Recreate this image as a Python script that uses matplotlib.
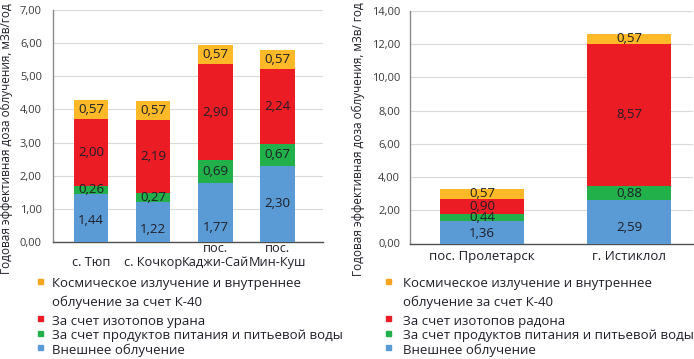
import matplotlib
matplotlib.use("Agg")
import matplotlib.pyplot as plt
import numpy as np
from matplotlib.transforms import blended_transform_factory
from matplotlib.lines import Line2D

plt.rcParams['font.family'] = ['Open Sans', 'DejaVu Sans']

# ---------------- data ----------------
left_categories = ["с. Тюп", "с. Кочкор", "пос.\nКаджи-Сай", "пос.\nМин-Куш"]
left_external = [1.44, 1.22, 1.77, 2.30]
left_food = [0.26, 0.27, 0.69, 0.67]
left_uranium = [2.00, 2.19, 2.90, 2.24]
left_cosmic = [0.57, 0.57, 0.57, 0.57]
left_yticks = [0, 1, 2, 3, 4, 5, 6, 7]

right_categories = ["пос. Пролетарск", "г. Истиклол"]
right_external = [1.36, 2.59]
right_food = [0.44, 0.88]
right_radon = [0.90, 8.57]
right_cosmic = [0.57, 0.57]
right_yticks = [0, 2, 4, 6, 8, 10, 12, 14]

ylabel_left = "Годовая эффективная доза облучения, мЗв/год"
ylabel_right = "Годовая эффективная доза облучения, мЗв/ год"

legend_left = ["Космическое излучение и внутреннее\nоблучение за счет К-40",
               "За счет изотопов урана",
               "За счет продуктов питания и питьевой воды",
               "Внешнее облучение"]
legend_right = ["Космическое излучение и внутреннее\nоблучение за счет К-40",
                "За счет изотопов радона",
                "За счет продуктов питания и питьевой воды",
                "Внешнее облучение"]

# ---------------- style ----------------
C_BLUE = "#5b9bd5"
C_GREEN = "#22b04b"
C_RED = "#ec1c24"
C_YELLOW = "#fdb927"
C_LEG_YELLOW = "#f7a51e"
TXT = "#1e1e28"

# label placement within blue segment (fraction of segment height)
left_blue_frac = [0.46, 0.30, 0.24, 0.51]
right_blue_frac = [0.46, 0.38]

W, H = 694, 359
fig = plt.figure(figsize=(W / 100, H / 100), dpi=100)


def fx(px):
    return px / W


def fy(py):
    return 1 - py / H


def fmt(v):
    return f"{v:.2f}".replace(".", ",")


def draw(ax, cats, series, colors, blue_frac, yticks, xlim, width, ypad):
    x = np.arange(len(cats))
    bottom = np.zeros(len(cats))
    for k, (vals, col) in enumerate(zip(series, colors)):
        vals = np.array(vals)
        ax.bar(x, vals, width, bottom=bottom, color=col, zorder=3)
        for i, v in enumerate(vals):
            frac = blue_frac[i] if k == 0 else 0.5
            ax.text(x[i], bottom[i] + v * frac, fmt(v), ha="center", va="center",
                    fontsize=9.5, color=TXT, zorder=4)
        bottom = bottom + vals
    ax.set_xlim(*xlim)
    ax.set_ylim(yticks[0], yticks[-1])
    ax.set_yticks(yticks)
    ax.set_yticklabels([fmt(t) for t in yticks], fontsize=8, color="#3a3a3a")
    ax.tick_params(axis="y", length=0, pad=ypad)
    ax.set_xticks([])
    ax.grid(axis="y", color="#d9d9d9", linewidth=0.8, zorder=0)
    ax.set_axisbelow(True)
    for s in ("top", "right"):
        ax.spines[s].set_visible(False)
    ax.spines["left"].set_color("#8c8c8c")
    ax.spines["left"].set_linewidth(1.0)
    ax.spines["bottom"].set_color("#505050")
    ax.spines["bottom"].set_linewidth(1.0)
    return x


# left axes
axL = fig.add_axes([fx(53), fy(242), fx(323) - fx(53), fy(10) - fy(242)])
xL = draw(axL, left_categories,
          [left_external, left_food, left_uranium, left_cosmic],
          [C_BLUE, C_GREEN, C_RED, C_YELLOW], left_blue_frac, left_yticks,
          (-0.61, 3.73), 0.555, 8)
trL = blended_transform_factory(axL.transData, fig.transFigure)
for xi, lab in zip(xL, left_categories):
    fig.text(xi, fy(269), lab, transform=trL, ha="center", va="bottom",
             fontsize=9.2, color=TXT, linespacing=1.1)

# right axes
axR = fig.add_axes([fx(410), fy(243.5), fx(693) - fx(410), fy(11) - fy(243.5)])
xR = draw(axR, right_categories,
          [right_external, right_food, right_radon, right_cosmic],
          [C_BLUE, C_GREEN, C_RED, C_YELLOW], right_blue_frac, right_yticks,
          (-0.49, 1.435), 0.571, 7)
trR = blended_transform_factory(axR.transData, fig.transFigure)
for xi, lab in zip(xR, right_categories):
    fig.text(xi, fy(263), lab, transform=trR, ha="center", va="bottom",
             fontsize=9.5, color=TXT)

# y labels
fig.text(fx(6), fy(139), ylabel_left, rotation=90, ha="center", va="center",
         fontsize=8.5, color=TXT)
fig.text(fx(358), fy(139), ylabel_right, rotation=90, ha="center", va="center",
         fontsize=8.5, color=TXT)

# legends
leg_colors = [C_LEG_YELLOW, C_RED, C_GREEN, C_BLUE]
text_tops = [277.5, 314.5, 329, 343.5]
marker_y = [281, 317.5, 332.5, 347]


def legend(labels, mx, tx):
    for lab, col, ty, my in zip(labels, leg_colors, text_tops, marker_y):
        fig.add_artist(Line2D([fx(mx)], [fy(my)], marker="s", markersize=3.6,
                              color=col, linestyle="none",
                              transform=fig.transFigure))
        fig.text(fx(tx), fy(ty), lab, ha="left", va="top", fontsize=9.5,
                 color=TXT, linespacing=1.5)


legend(legend_left, 39.5, 52)
legend(legend_right, 387.5, 403)

fig.savefig("out.png", dpi=100)
